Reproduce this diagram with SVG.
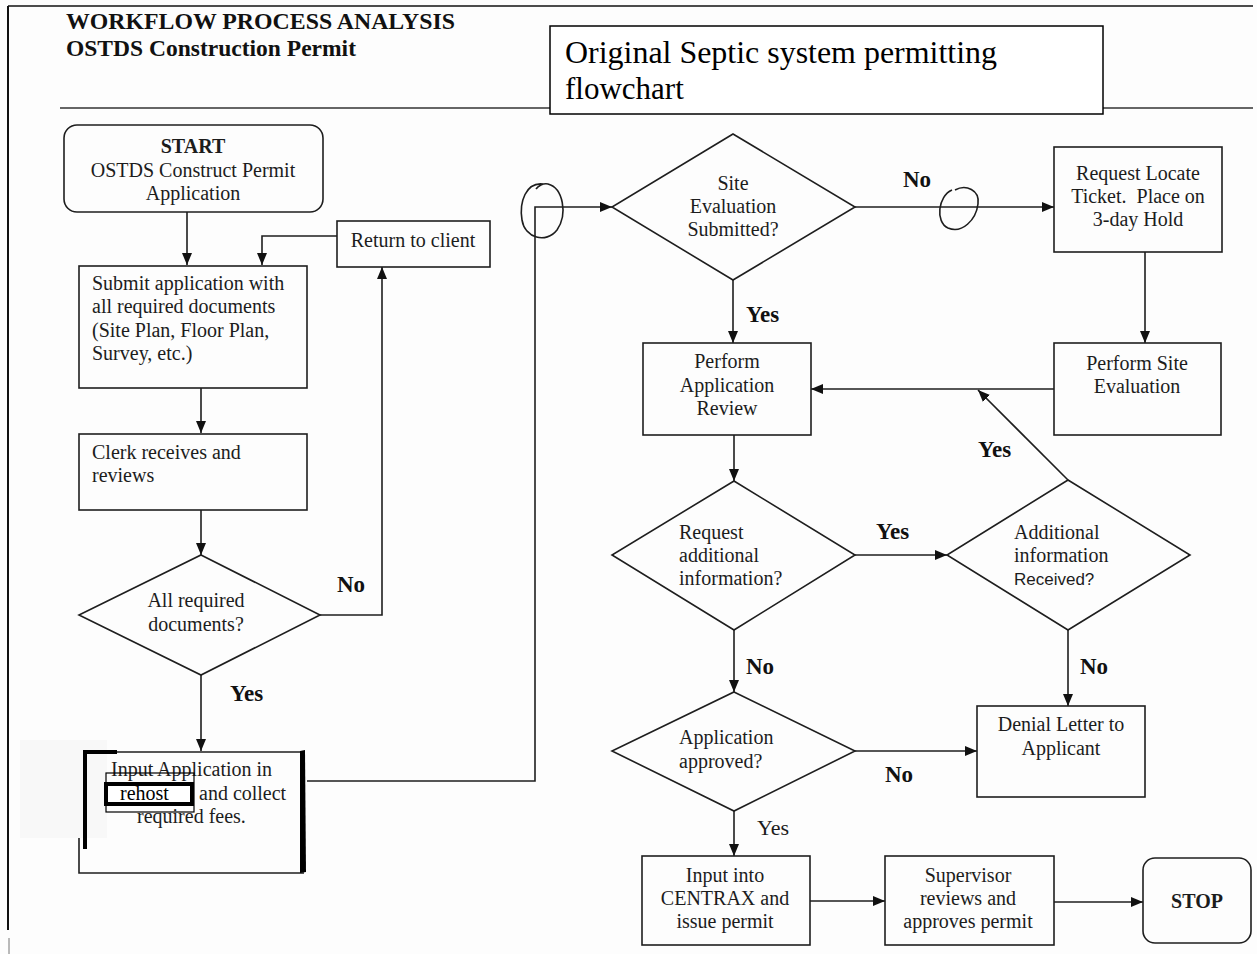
<svg xmlns="http://www.w3.org/2000/svg" width="1257" height="954" viewBox="0 0 1257 954">
  <defs>
    <marker id="arrow" viewBox="0 0 12 10" markerWidth="12" markerHeight="10" refX="12" refY="5" orient="auto" markerUnits="userSpaceOnUse">
      <path d="M0,0 L12,5 L0,10 z" fill="#111"/>
    </marker>
  </defs>
  <style>
    text { font-family: "Liberation Serif", "Times New Roman", serif; fill: #1c1c1c; font-size: 20px; }
    .title { font-size: 23px; font-weight: bold; fill: #111; }
    .note { font-size: 31px; fill: #000; }
    .c { text-anchor: middle; }
    .b { font-weight: bold; }
    .lbl { font-size: 23px; font-weight: bold; fill: #111; }
    .box { fill: none; stroke: #1e1e1e; stroke-width: 1.6; }
    .conn path { fill: none; stroke: #1e1e1e; stroke-width: 1.6; }
    .arr { marker-end: url(#arrow); }
    .sans { font-family: "Liberation Sans", Arial, sans-serif; font-size: 17px; }
  </style>

  <rect x="0" y="0" width="1257" height="954" fill="#fdfdfd"/>

  <!-- page frame and header rule -->
  <g id="frame" fill="none" stroke="#111">
    <path d="M8,6 H1253" stroke-width="1.6"/>
    <path d="M8,6 V930" stroke-width="2"/>
    <path d="M9,938 V954" stroke-width="1" stroke="#777"/>
    <path d="M60,108 H1253" stroke-width="1.4" stroke="#333"/>
  </g>

  <!-- heading -->
  <g id="heading">
    <text class="title" x="66" y="29" textLength="389" lengthAdjust="spacingAndGlyphs">WORKFLOW PROCESS ANALYSIS</text>
    <text class="title" x="66" y="56" textLength="290" lengthAdjust="spacingAndGlyphs">OSTDS Construction Permit</text>
  </g>

  <g id="caption">
    <rect x="550" y="26" width="553" height="88" fill="#fff" stroke="#000" stroke-width="1.5"/>
    <text class="note" x="565" y="63" textLength="432" lengthAdjust="spacingAndGlyphs">Original Septic system permitting</text>
    <text class="note" x="565" y="99">flowchart</text>
  </g>

  <!-- connectors -->
  <g id="connectors" class="conn">
    <path class="arr" d="M187,212 V265"/>
    <path class="arr" d="M337,236 H262 V265"/>
    <path class="arr" d="M201,388 V433"/>
    <path class="arr" d="M201,510 V555"/>
    <path class="arr" d="M320,615 H382 V267"/>
    <path class="arr" d="M201,675 V751"/>
    <path class="arr" d="M307,781 H535 V207 H612"/>
    <path class="arr" d="M855,207 H1054"/>
    <path class="arr" d="M1145,252 V343"/>
    <path class="arr" d="M733,280 V343"/>
    <path class="arr" d="M1054,389 H811"/>
    <path class="arr" d="M734,435 V481"/>
    <path class="arr" d="M855,555 H947"/>
    <path class="arr" d="M1068,480 L978,390"/>
    <path class="arr" d="M734,630 V692"/>
    <path class="arr" d="M1068,630 V706"/>
    <path class="arr" d="M855,751 H977"/>
    <path class="arr" d="M734,811 V856"/>
    <path class="arr" d="M810,901 H885"/>
    <path class="arr" d="M1054,902 H1143"/>
    <!-- hand-drawn loops -->
    <path d="M543,184 C526,182 519,202 522,220 C525,238 546,244 557,230 C568,214 563,188 548,184 C543,183 538,186 536,189" stroke-width="1.3"/>
    <path d="M952,190 C938,196 935,222 948,228 C962,234 976,220 978,204 C980,190 966,184 955,190" stroke-width="1.3"/>
  </g>

  <!-- edge labels -->
  <g id="edge-labels">
    <text class="lbl" x="337" y="592">No</text>
    <text class="lbl" x="230" y="701">Yes</text>
    <text class="lbl" x="903" y="187">No</text>
    <text class="lbl" x="746" y="322">Yes</text>
    <text class="lbl" x="978" y="457">Yes</text>
    <text class="lbl" x="876" y="539">Yes</text>
    <text class="lbl" x="746" y="674">No</text>
    <text class="lbl" x="1080" y="674">No</text>
    <text class="lbl" x="885" y="782">No</text>
    <text x="757" y="835" style="font-size:22px">Yes</text>
  </g>

  <g id="start">
    <rect class="box" x="64" y="125" width="259" height="87" rx="13"/>
    <text class="c b" x="193" y="153">START</text>
    <text class="c" x="193" y="177">OSTDS Construct Permit</text>
    <text class="c" x="193" y="200">Application</text>
  </g>

  <g id="submit">
    <rect class="box" x="79" y="266" width="228" height="122"/>
    <text x="92" y="290">Submit application with</text>
    <text x="92" y="313">all required documents</text>
    <text x="92" y="337">(Site Plan, Floor Plan,</text>
    <text x="92" y="360">Survey, etc.)</text>
  </g>

  <g id="return-client">
    <rect class="box" x="337" y="221" width="153" height="46"/>
    <text class="c" x="413" y="247">Return to client</text>
  </g>

  <g id="clerk">
    <rect class="box" x="79" y="434" width="228" height="76"/>
    <text x="92" y="459">Clerk receives and</text>
    <text x="92" y="482">reviews</text>
  </g>

  <g id="all-docs">
    <polygon class="box" points="201,555 320,615 201,675 79,615"/>
    <text class="c" x="196" y="607">All required</text>
    <text class="c" x="196" y="631">documents?</text>
  </g>

  <g id="input-app">
    <rect x="20" y="740" width="87" height="98" fill="#f8f8f8"/>
    <path class="box" d="M79,838 V873 H304 M117,752 H302"/>
    <path d="M85,849 V752 H117" fill="none" stroke="#000" stroke-width="4"/>
    <path d="M300,751 L305,750 L306,872 L300,873 z" fill="#000"/>
    <text x="111" y="776">Input Application in</text>
    <text x="199" y="800">and collect</text>
    <text x="137" y="823">required fees.</text>
    <rect x="106" y="773" width="88" height="39" fill="none" stroke="#000" stroke-width="1.2"/>
    <rect x="106" y="784" width="86" height="20" fill="#fff" stroke="#000" stroke-width="4"/>
    <text x="120" y="800" style="fill:#000;font-size:20px">rehost</text>
  </g>

  <g id="site-eval">
    <polygon class="box" points="733,134 855,207 733,280 612,207"/>
    <text class="c" x="733" y="190">Site</text>
    <text class="c" x="733" y="213">Evaluation</text>
    <text class="c" x="733" y="236">Submitted?</text>
  </g>

  <g id="locate-ticket">
    <rect class="box" x="1054" y="147" width="168" height="105"/>
    <text class="c" x="1138" y="180">Request Locate</text>
    <text class="c" x="1138" y="203" xml:space="preserve">Ticket.  Place on</text>
    <text class="c" x="1138" y="226">3-day Hold</text>
  </g>

  <g id="site-evaluation">
    <rect class="box" x="1054" y="343" width="167" height="92"/>
    <text class="c" x="1137" y="370">Perform Site</text>
    <text class="c" x="1137" y="393">Evaluation</text>
  </g>

  <g id="app-review">
    <rect class="box" x="643" y="343" width="168" height="92"/>
    <text class="c" x="727" y="368">Perform</text>
    <text class="c" x="727" y="392">Application</text>
    <text class="c" x="727" y="415">Review</text>
  </g>

  <g id="request-info">
    <polygon class="box" points="734,481 855,555 734,630 612,555"/>
    <text x="679" y="539">Request</text>
    <text x="679" y="562">additional</text>
    <text x="679" y="585">information?</text>
  </g>

  <g id="info-received">
    <polygon class="box" points="1068,480 1190,555 1068,630 947,555"/>
    <text x="1014" y="539">Additional</text>
    <text x="1014" y="562">information</text>
    <text class="sans" x="1014" y="585">Received?</text>
  </g>

  <g id="app-approved">
    <polygon class="box" points="734,692 855,751 734,811 612,751"/>
    <text x="679" y="744">Application</text>
    <text x="679" y="768">approved?</text>
  </g>

  <g id="denial">
    <rect class="box" x="977" y="706" width="168" height="91"/>
    <text class="c" x="1061" y="731">Denial Letter to</text>
    <text class="c" x="1061" y="755">Applicant</text>
  </g>

  <g id="centrax">
    <rect class="box" x="642" y="856" width="168" height="89"/>
    <text class="c" x="725" y="882">Input into</text>
    <text class="c" x="725" y="905">CENTRAX and</text>
    <text class="c" x="725" y="928">issue permit</text>
  </g>

  <g id="supervisor">
    <rect class="box" x="885" y="856" width="169" height="89"/>
    <text class="c" x="968" y="882">Supervisor</text>
    <text class="c" x="968" y="905">reviews and</text>
    <text class="c" x="968" y="928">approves permit</text>
  </g>

  <g id="stop">
    <rect class="box" x="1143" y="858" width="108" height="85" rx="12"/>
    <text class="c b" x="1197" y="908">STOP</text>
  </g>
</svg>
